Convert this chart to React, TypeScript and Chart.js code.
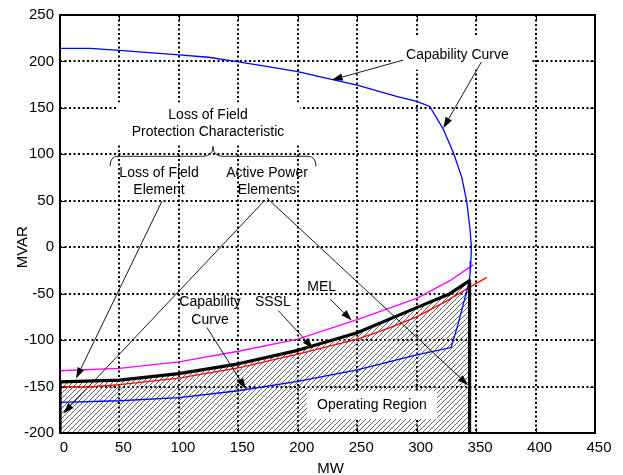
import React, { useEffect, useRef } from "react";
import { Chart, registerables } from "chart.js";

Chart.register(...registerables);

const FONT = '"Liberation Sans", Arial, Helvetica, sans-serif';

// Axis ticks
const xTicks = [0, 50, 100, 150, 200, 250, 300, 350, 400, 450];
const yTicks = [-200, -150, -100, -50, 0, 50, 100, 150, 200, 250];

// Generator capability curve (upper over-excited part, corner, under-excited part)
const capabilityX = [0, 25, 50, 75, 100, 125, 150, 175, 200, 220, 250, 283, 300, 311, 322, 331, 338, 342, 345, 346, 345.6, 345, 344, 339.5, 335, 329, 300, 250, 200, 150, 100, 50, 0];
const capabilityY = [214, 214, 212, 209.5, 207, 204.5, 199.5, 194.5, 189, 183, 174.5, 162.5, 157, 151.5, 128, 101.5, 75, 50, 18, 0, -15, -28, -38, -60, -82, -108, -116, -132, -144.5, -154.5, -162, -165.3, -167];

// Steady-state stability limit (SSSL)
const ssslX = [0, 25, 50, 100, 150, 200, 250, 275, 300, 325, 342, 359];
const ssslY = [-150, -150.5, -148, -141, -130, -115, -99, -88, -75, -58, -45, -32.5];

// Minimum excitation limiter (MEL)
const melX = [0, 50, 100, 150, 200, 250, 300, 328, 347.5];
const melY = [-133, -130.5, -123.5, -112, -99, -78, -55, -36, -19];

// Loss of field protection characteristic (bounds the operating region)
const protX = [0, 0, 50, 100, 150, 200, 250, 300, 328, 344.5, 344.5];
const protY = [-200, -145, -143, -136, -125.5, -111, -92, -65, -50, -36, -200];

// Annotation texts [text, x, y] in data units
const labels: [string, number, number][] = [
  ["Capability Curve", 334.3, 207.1],
  ["Loss of Field", 124.5, 141.8],
  ["Protection Characteristic", 124.5, 123.6],
  ["Loss of Field", 83.3, 79.6],
  ["Element", 83.3, 61.4],
  ["Active Power", 174.1, 79.6],
  ["Elements", 174.1, 61.4],
  ["Capability", 126.2, -59.3],
  ["Curve", 126.2, -78.2],
  ["SSSL", 179, -59.3],
  ["MEL", 220.1, -43.3],
  ["Operating Region", 262.4, -170],
];

// White label backgrounds [x1, x2, yTop, yBottom] in data units
const labelBoxes: [number, number, number, number][] = [
  [280.1, 396.2, 226.4, 191.1],
  [47.9, 201.9, 155.7, 110.7],
  [207.8, 317.1, -155, -185],
];

// Arrows [fromX, fromY, toX, toY] in data units
const arrows: [number, number, number, number][] = [
  [288.8, 201.5, 228.5, 180],
  [354.5, 199.6, 322.4, 128.2],
  [85.8, 49.6, 13.5, -141.4],
  [172.4, 50.7, 2.8, -178.9],
  [174.1, 52.9, 343.4, -148.6],
  [123.6, -86.4, 156.4, -152.9],
  [183.6, -68.2, 212.8, -108.9],
  [227.1, -55.7, 245.4, -78.9],
];

// Curly brace under "Loss of Field Protection Characteristic"
const braceX = [42.1, 128.7, 215.3];
const braceY = [87.1, 97.9, 108.6];

function makeHatch(): CanvasPattern | string {
  const c = document.createElement("canvas");
  const s = 5;
  c.width = s;
  c.height = s;
  const g = c.getContext("2d");
  if (!g) return "rgba(0,0,0,0.2)";
  g.strokeStyle = "#505050";
  g.lineWidth = 0.9;
  g.beginPath();
  g.moveTo(-1, s + 1);
  g.lineTo(s + 1, -1);
  g.moveTo(-1, 1);
  g.lineTo(1, -1);
  g.moveTo(s - 1, s + 1);
  g.lineTo(s + 1, s - 1);
  g.stroke();
  return g.createPattern(c, "repeat") || "rgba(0,0,0,0.2)";
}

const overlayPlugin = {
  id: "overlay",
  afterDatasetsDraw(chart: any) {
    const { ctx, chartArea: a, scales } = chart;
    const xs = scales.x;
    const ys = scales.y;
    const px = (v: number) => xs.getPixelForValue(v);
    const py = (v: number) => ys.getPixelForValue(v);
    ctx.save();
    ctx.setLineDash([]);

    // white label boxes
    ctx.fillStyle = "#fff";
    for (const b of labelBoxes) {
      const l = px(b[0]);
      const r = px(b[1]);
      const t = py(b[2]);
      const bt = py(b[3]);
      ctx.fillRect(l, t, r - l, bt - t);
    }

    // texts
    ctx.fillStyle = "#000";
    ctx.font = `14px ${FONT}`;
    ctx.textAlign = "center";
    ctx.textBaseline = "middle";
    for (const [t, x, y] of labels) ctx.fillText(t, px(x), py(y));

    // arrows
    ctx.strokeStyle = "#000";
    ctx.lineWidth = 0.9;
    for (const [x1, y1, x2, y2] of arrows) {
      const ax = px(x1), ay = py(y1), bx = px(x2), by = py(y2);
      const ang = Math.atan2(by - ay, bx - ax);
      const L = 11, W = 3.6;
      const cx = bx - L * Math.cos(ang), cy = by - L * Math.sin(ang);
      ctx.beginPath();
      ctx.moveTo(ax, ay);
      ctx.lineTo(cx, cy);
      ctx.stroke();
      ctx.beginPath();
      ctx.moveTo(bx, by);
      ctx.lineTo(cx + W * Math.sin(ang), cy - W * Math.cos(ang));
      ctx.lineTo(cx - W * Math.sin(ang), cy + W * Math.cos(ang));
      ctx.closePath();
      ctx.fillStyle = "#000";
      ctx.fill();
    }

    // brace
    {
      const x1 = px(braceX[0]), xt = px(braceX[1]), x2 = px(braceX[2]);
      const ye = py(braceY[0]), yb = py(braceY[1]), yt = py(braceY[2]);
      const r = 8, rt = 10;
      ctx.lineWidth = 1;
      ctx.strokeStyle = "#222";
      ctx.beginPath();
      ctx.moveTo(x1, ye);
      ctx.quadraticCurveTo(x1, yb, x1 + r, yb);
      ctx.lineTo(xt - rt, yb);
      ctx.quadraticCurveTo(xt, yb, xt, yt);
      ctx.quadraticCurveTo(xt, yb, xt + rt, yb);
      ctx.lineTo(x2 - r, yb);
      ctx.quadraticCurveTo(x2, yb, x2, ye);
      ctx.stroke();
    }

    // frame
    ctx.strokeStyle = "#000";
    ctx.lineWidth = 2;
    ctx.strokeRect(a.left, a.top, a.right - a.left, a.bottom - a.top);

    // inward tick marks
    ctx.lineWidth = 1;
    ctx.beginPath();
    for (const v of xTicks) {
      const p = Math.round(px(v)) + 0.5;
      ctx.moveTo(p, a.bottom);
      ctx.lineTo(p, a.bottom - 5);
      ctx.moveTo(p, a.top);
      ctx.lineTo(p, a.top + 5);
    }
    for (const v of yTicks) {
      const p = Math.round(py(v)) + 0.5;
      ctx.moveTo(a.left, p);
      ctx.lineTo(a.left + 5, p);
      ctx.moveTo(a.right, p);
      ctx.lineTo(a.right - 5, p);
    }
    ctx.stroke();

    // axis titles
    ctx.fillStyle = "#000";
    ctx.font = `15px ${FONT}`;
    ctx.textAlign = "center";
    ctx.textBaseline = "alphabetic";
    ctx.fillText("MW", (a.left + a.right) / 2 + 3, a.bottom + 40);
    ctx.save();
    ctx.translate(a.left - 32.6, py(0));
    ctx.rotate(-Math.PI / 2);
    ctx.fillText("MVAR", 0, 0);
    ctx.restore();

    ctx.restore();
  },
};

function pts(xsArr: number[], ysArr: number[]) {
  return xsArr.map((x, i) => ({ x, y: ysArr[i] }));
}

export default function App() {
  const ref = useRef<HTMLCanvasElement | null>(null);

  useEffect(() => {
    if (!ref.current) return;
    const hatch = makeHatch();
    const gridDash = [2, 2.5];
    const chart = new Chart(ref.current, {
      type: "scatter",
      data: {
        datasets: [
          {
            label: "Loss of Field Protection Characteristic",
            data: pts(protX, protY),
            showLine: true,
            borderColor: "#000",
            borderWidth: 3.2,
            backgroundColor: hatch as any,
            fill: { value: -200 } as any,
            pointRadius: 0,
            borderJoinStyle: "round",
          },
          {
            label: "Capability Curve",
            data: pts(capabilityX, capabilityY),
            showLine: true,
            borderColor: "#0000ff",
            borderWidth: 1.3,
            pointRadius: 0,
            fill: false,
          },
          {
            label: "SSSL",
            data: pts(ssslX, ssslY),
            showLine: true,
            borderColor: "#ff0000",
            borderWidth: 1.3,
            pointRadius: 0,
            fill: false,
          },
          {
            label: "MEL",
            data: pts(melX, melY),
            showLine: true,
            borderColor: "#ff00ff",
            borderWidth: 1.3,
            pointRadius: 0,
            fill: false,
          },
        ],
      },
      options: {
        animation: false,
        responsive: true,
        maintainAspectRatio: false,
        events: [],
        layout: { padding: { top: 13, right: 28, left: 0, bottom: 0 } },
        elements: { point: { radius: 0 }, line: { tension: 0 } },
        plugins: {
          legend: { display: false },
          tooltip: { enabled: false },
          filler: { drawTime: "beforeDatasetsDraw" } as any,
        },
        scales: {
          x: {
            type: "linear",
            min: 0,
            max: 450,
            afterBuildTicks: (s: any) => {
              s.ticks = xTicks.map((v) => ({ value: v }));
            },
            afterFit: (s: any) => {
              s.height = 42;
            },
            grid: { color: "#000", lineWidth: 2, drawTicks: false },
            border: { display: false, dash: gridDash },
            ticks: {
              color: "#000",
              font: { family: FONT, size: 15 },
              padding: 6,
              labelOffset: 4,
              maxRotation: 0,
              autoSkip: false,
            },
          },
          y: {
            type: "linear",
            min: -200,
            max: 250,
            afterBuildTicks: (s: any) => {
              s.ticks = yTicks.map((v) => ({ value: v }));
            },
            afterFit: (s: any) => {
              s.width = 60;
            },
            grid: { color: "#000", lineWidth: 2, drawTicks: false },
            border: { display: false, dash: gridDash },
            ticks: {
              color: "#000",
              font: { family: FONT, size: 15 },
              padding: 6,
              autoSkip: false,
            },
          },
        },
      },
      plugins: [overlayPlugin],
    });
    return () => chart.destroy();
  }, []);

  return (
    <div style={{ position: "fixed", left: 0, top: 0, width: 623, height: 475, background: "#fff" }}>
      <canvas ref={ref} />
    </div>
  );
}
